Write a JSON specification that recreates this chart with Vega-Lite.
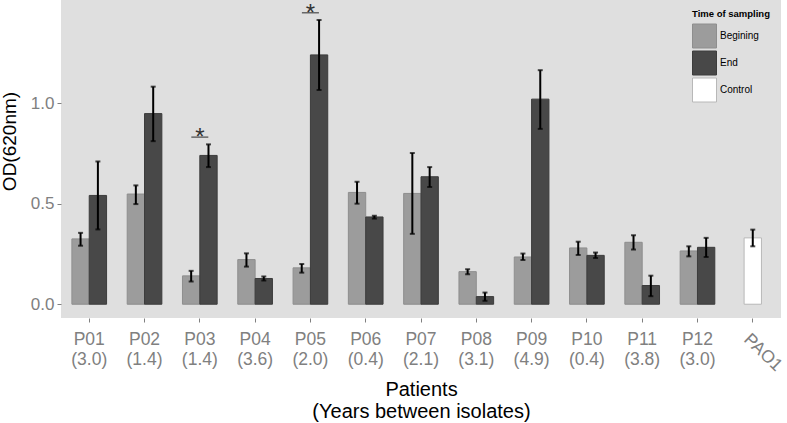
{
  "$schema": "https://vega.github.io/schema/vega-lite/v6.json",
  "width": 720,
  "height": 318,
  "autosize": "none",
  "padding": {"left": 61, "top": 0, "right": 6, "bottom": 105},
  "config": {
    "font": "Liberation Sans",
    "view": {"fill": "#dfdfdf", "stroke": null}
  },
  "datasets": {
    "patients": [
      {"label": "P01 (3.0)", "time": "Begining", "od": 0.325, "lo": 0.291, "hi": 0.355},
      {"label": "P01 (3.0)", "time": "End", "od": 0.541, "lo": 0.372, "hi": 0.710},
      {"label": "P02 (1.4)", "time": "Begining", "od": 0.548, "lo": 0.498, "hi": 0.591},
      {"label": "P02 (1.4)", "time": "End", "od": 0.948, "lo": 0.811, "hi": 1.082},
      {"label": "P03 (1.4)", "time": "Begining", "od": 0.141, "lo": 0.113, "hi": 0.166},
      {"label": "P03 (1.4)", "time": "End", "od": 0.740, "lo": 0.682, "hi": 0.795},
      {"label": "P04 (3.6)", "time": "Begining", "od": 0.222, "lo": 0.187, "hi": 0.253},
      {"label": "P04 (3.6)", "time": "End", "od": 0.128, "lo": 0.118, "hi": 0.138},
      {"label": "P05 (2.0)", "time": "Begining", "od": 0.181, "lo": 0.157, "hi": 0.200},
      {"label": "P05 (2.0)", "time": "End", "od": 1.240, "lo": 1.066, "hi": 1.414},
      {"label": "P06 (0.4)", "time": "Begining", "od": 0.556, "lo": 0.500, "hi": 0.609},
      {"label": "P06 (0.4)", "time": "End", "od": 0.434, "lo": 0.426, "hi": 0.440},
      {"label": "P07 (2.1)", "time": "Begining", "od": 0.551, "lo": 0.350, "hi": 0.752},
      {"label": "P07 (2.1)", "time": "End", "od": 0.634, "lo": 0.583, "hi": 0.682},
      {"label": "P08 (3.1)", "time": "Begining", "od": 0.162, "lo": 0.149, "hi": 0.174},
      {"label": "P08 (3.1)", "time": "End", "od": 0.038, "lo": 0.017, "hi": 0.058},
      {"label": "P09 (4.9)", "time": "Begining", "od": 0.235, "lo": 0.220, "hi": 0.252},
      {"label": "P09 (4.9)", "time": "End", "od": 1.020, "lo": 0.872, "hi": 1.164},
      {"label": "P10 (0.4)", "time": "Begining", "od": 0.280, "lo": 0.245, "hi": 0.311},
      {"label": "P10 (0.4)", "time": "End", "od": 0.243, "lo": 0.230, "hi": 0.257},
      {"label": "P11 (3.8)", "time": "Begining", "od": 0.308, "lo": 0.272, "hi": 0.343},
      {"label": "P11 (3.8)", "time": "End", "od": 0.093, "lo": 0.040, "hi": 0.142},
      {"label": "P12 (3.0)", "time": "Begining", "od": 0.265, "lo": 0.238, "hi": 0.288},
      {"label": "P12 (3.0)", "time": "End", "od": 0.283, "lo": 0.235, "hi": 0.330}
    ],
    "control": [
      {"label": "PAO1", "time": "Control", "od": 0.330, "lo": 0.288, "hi": 0.371}
    ],
    "signif": [
      {"label": "P03 (1.4)", "line": 0.831, "mark": "*"},
      {"label": "P05 (2.0)", "line": 1.450, "mark": "*"}
    ]
  },
  "encoding": {
    "x": {
      "field": "label",
      "type": "nominal",
      "sort": null,
      "scale": {
        "domain": ["P01 (3.0)", "P02 (1.4)", "P03 (1.4)", "P04 (3.6)", "P05 (2.0)", "P06 (0.4)", "P07 (2.1)", "P08 (3.1)", "P09 (4.9)", "P10 (0.4)", "P11 (3.8)", "P12 (3.0)", "PAO1"],
        "paddingInner": 0.373,
        "paddingOuter": 0.197
      },
      "axis": {
        "title": ["Patients", "(Years between isolates)"],
        "titleFontSize": 20,
        "titleFontWeight": "normal",
        "titleColor": "#000000",
        "titleLineHeight": 22,
        "titlePadding": 5,
        "labelExpr": "split(datum.value, ' ')",
        "labelAngle": {"expr": "datum.value === 'PAO1' ? 44 : 0"},
        "labelAlign": {"condition": {"test": "datum.value === 'PAO1'", "value": "left"}, "value": "center"},
        "labelBaseline": "top",
        "labelFontSize": 17.5,
        "labelColor": "#808080",
        "labelLineHeight": 20.5,
        "labelPadding": 8,
        "tickColor": "#808080",
        "tickSize": 4,
        "domain": false,
        "grid": false
      }
    },
    "y": {
      "type": "quantitative",
      "scale": {"domain": [-0.0685, 1.513], "nice": false, "zero": false},
      "axis": {
        "title": "OD(620nm)",
        "titleFontSize": 19,
        "titleFontWeight": "normal",
        "titleColor": "#000000",
        "titleX": -52,
        "titleY": 141,
        "titleAngle": -90,
        "titleAlign": "center",
        "titleBaseline": "middle",
        "values": [0, 0.5, 1],
        "format": ".1f",
        "labelFontSize": 17,
        "labelColor": "#808080",
        "labelPadding": 3,
        "tickColor": "#808080",
        "tickSize": 4,
        "domain": false,
        "grid": false
      }
    }
  },
  "layer": [
    {
      "data": {"name": "patients"},
      "mark": {"type": "bar", "strokeWidth": 1},
      "encoding": {
        "xOffset": {"field": "time", "type": "nominal", "scale": {"domain": ["Begining", "End"], "paddingInner": 0, "paddingOuter": 0}},
        "y": {"field": "od", "type": "quantitative"},
        "color": {
          "field": "time", "type": "nominal",
          "scale": {"domain": ["Begining", "End", "Control"], "range": ["#9c9c9c", "#484848", "#ffffff"]},
          "legend": {
            "title": "Time of sampling",
            "orient": "none",
            "legendX": 631,
            "legendY": 9,
            "titleFontSize": 9.5,
            "titleFontWeight": "bold",
            "titleColor": "#000000",
            "titlePadding": 5,
            "labelFontSize": 10,
            "labelColor": "#000000",
            "labelOffset": 3,
            "symbolType": "square",
            "symbolSize": 576,
            "symbolStrokeWidth": 1,
            "rowPadding": -7
          }
        },
        "stroke": {
          "field": "time", "type": "nominal",
          "scale": {"domain": ["Begining", "End", "Control"], "range": ["#8e8e8e", "#3c3c3c", "#b8b8b8"]},
          "legend": {
            "title": "Time of sampling",
            "orient": "none",
            "legendX": 631,
            "legendY": 9,
            "titleFontSize": 9.5,
            "titleFontWeight": "bold",
            "titleColor": "#000000",
            "titlePadding": 5,
            "labelFontSize": 10,
            "labelColor": "#000000",
            "labelOffset": 3,
            "symbolType": "square",
            "symbolSize": 576,
            "symbolStrokeWidth": 1,
            "rowPadding": -7
          }
        }
      }
    },
    {
      "data": {"name": "control"},
      "mark": {"type": "bar", "strokeWidth": 1, "width": {"band": 0.5}},
      "encoding": {
        "y": {"field": "od", "type": "quantitative"},
        "color": {"field": "time", "type": "nominal"},
        "stroke": {"field": "time", "type": "nominal"}
      }
    },
    {
      "data": {"name": "patients"},
      "mark": {"type": "rule", "color": "#000000", "strokeWidth": 2},
      "encoding": {
        "xOffset": {"field": "time", "type": "nominal"},
        "y": {"field": "lo", "type": "quantitative"},
        "y2": {"field": "hi"}
      }
    },
    {
      "data": {"name": "patients"},
      "mark": {"type": "tick", "color": "#000000", "size": 5, "thickness": 2},
      "encoding": {
        "xOffset": {"field": "time", "type": "nominal"},
        "y": {"field": "lo", "type": "quantitative"}
      }
    },
    {
      "data": {"name": "patients"},
      "mark": {"type": "tick", "color": "#000000", "size": 5, "thickness": 2},
      "encoding": {
        "xOffset": {"field": "time", "type": "nominal"},
        "y": {"field": "hi", "type": "quantitative"}
      }
    },
    {
      "data": {"name": "control"},
      "mark": {"type": "rule", "color": "#000000", "strokeWidth": 2},
      "encoding": {
        "y": {"field": "lo", "type": "quantitative"},
        "y2": {"field": "hi"}
      }
    },
    {
      "data": {"name": "control"},
      "mark": {"type": "tick", "color": "#000000", "size": 5, "thickness": 2},
      "encoding": {"y": {"field": "lo", "type": "quantitative"}}
    },
    {
      "data": {"name": "control"},
      "mark": {"type": "tick", "color": "#000000", "size": 5, "thickness": 2},
      "encoding": {"y": {"field": "hi", "type": "quantitative"}}
    },
    {
      "data": {"name": "signif"},
      "mark": {"type": "tick", "color": "#333333", "size": 17, "thickness": 1.5},
      "encoding": {"y": {"field": "line", "type": "quantitative"}}
    },
    {
      "data": {"name": "signif"},
      "mark": {"type": "text", "color": "#333333", "fontSize": 24, "baseline": "alphabetic", "dy": 8},
      "encoding": {
        "y": {"field": "line", "type": "quantitative"},
        "text": {"field": "mark"}
      }
    }
  ],
  "resolve": {"scale": {"color": "shared", "stroke": "shared"}}
}
